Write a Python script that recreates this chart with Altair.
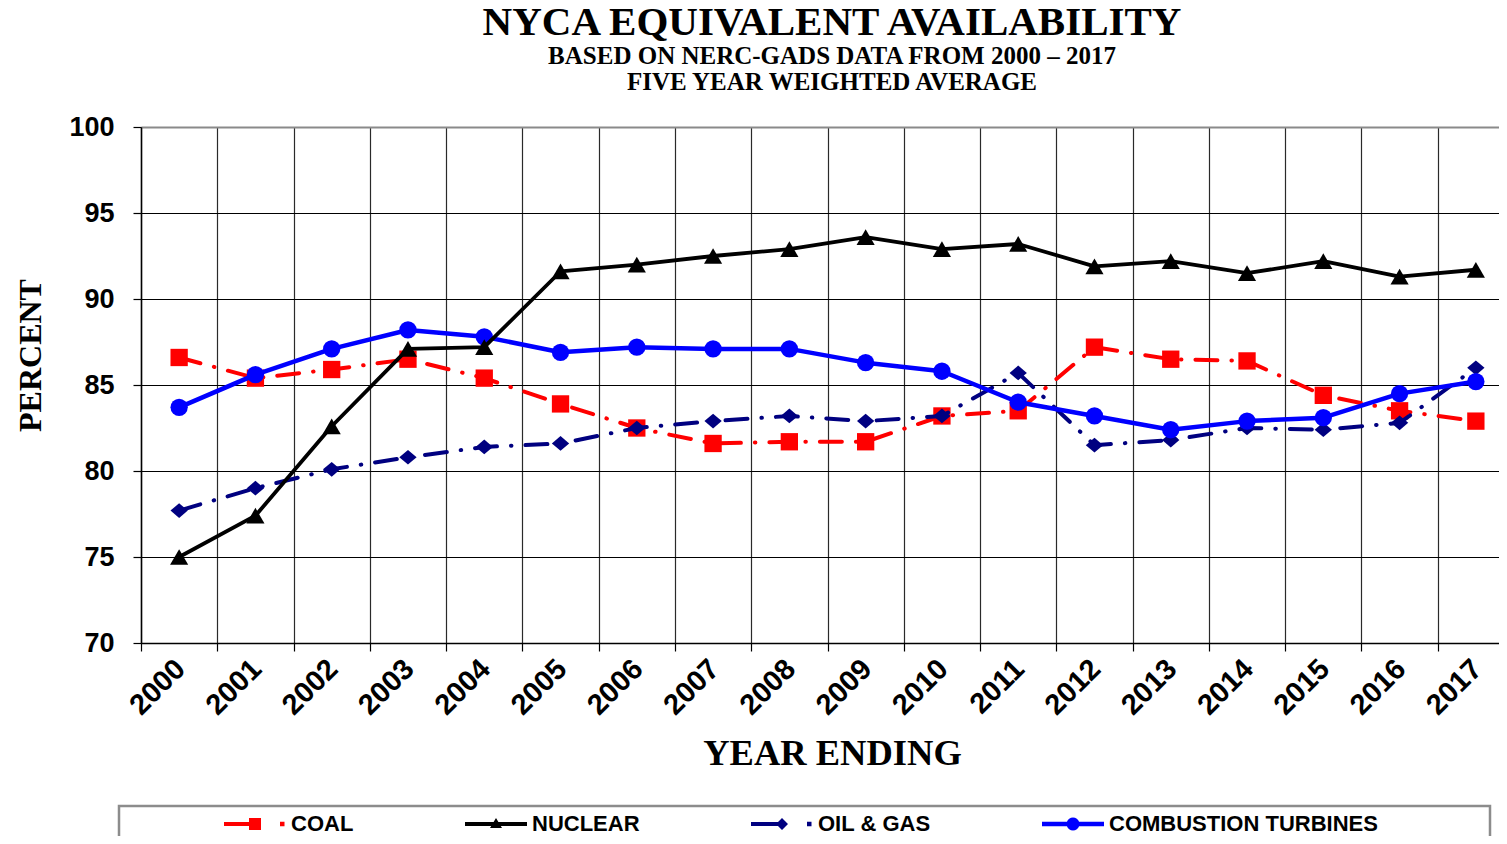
import math
import altair as alt
import pandas as pd

# ---------------- data ----------------
years = [str(y) for y in range(2000, 2018)]
coal = [86.6, 85.4, 85.9, 86.5, 85.4, 83.9, 82.5, 81.6, 81.7, 81.7, 83.2, 83.5, 87.2, 86.5, 86.4, 84.4, 83.5, 82.9]
nuclear = [75.0, 77.4, 82.6, 87.1, 87.2, 91.6, 92.0, 92.5, 92.9, 93.6, 92.9, 93.2, 91.9, 92.2, 91.5, 92.2, 91.3, 91.7]
oil_gas = [77.7, 79.0, 80.1, 80.8, 81.4, 81.6, 82.5, 82.9, 83.2, 82.9, 83.2, 85.7, 81.5, 81.8, 82.5, 82.4, 82.8, 86.0]
combustion = [83.7, 85.6, 87.1, 88.2, 87.8, 86.9, 87.2, 87.1, 87.1, 86.3, 85.8, 84.0, 83.2, 82.4, 82.9, 83.1, 84.5, 85.2]

series_names = ["COAL", "NUCLEAR", "OIL & GAS", "COMBUSTION TURBINES"]
series_values = [coal, nuclear, oil_gas, combustion]
series_colors = ["#FF0000", "#000000", "#000080", "#0000FF"]
y_ticks = [70, 75, 80, 85, 90, 95, 100]

title_text = "NYCA EQUIVALENT AVAILABILITY"
subtitle_text = ["BASED ON NERC-GADS DATA FROM 2000 \u2013 2017", "FIVE YEAR WEIGHTED AVERAGE"]

# ---------------- layout ----------------
PLOT_W = 1358          # visible view width
RANGE_W = 1373         # 18 bands of ~76.3px (last band runs off the page)
PLOT_H = 516

rows = []
for name, vals in zip(series_names, series_values):
    for yr, v in zip(years, vals):
        rows.append({"year": yr, "value": v, "series": name})
df = pd.DataFrame(rows)

X = alt.X(
    "year:O",
    bandPosition=0.5,
    scale=alt.Scale(type="band", domain=years, paddingInner=0, paddingOuter=0, range=[0, RANGE_W]),
    axis=alt.Axis(
        tickBand="extent", grid=True, gridColor="#2a2a2a", gridWidth=1.2,
        domainColor="black", domainWidth=1.5, tickColor="black", tickSize=8, tickWidth=1.2,
        labelAngle=315, labelAlign="right", labelBaseline="top", labelPadding=3, labelOffset=-9,
        labelFont="Liberation Sans", labelFontSize=29, labelFontWeight="bold", labelColor="black",
        titleFont="Liberation Serif", titleFontSize=36.5, titleFontWeight="bold", titleColor="black",
        titleX=691, titleY=121, titleBaseline="alphabetic", titleAlign="center",
    ),
    title="YEAR ENDING",
)
Y = alt.Y(
    "value:Q",
    scale=alt.Scale(domain=[70, 100], nice=False, zero=False),
    axis=alt.Axis(
        values=y_ticks, grid=True,
        gridColor={"condition": {"test": "datum.value === 100", "value": "#8a8a8a"}, "value": "black"},
        gridWidth={"condition": {"test": "datum.value === 100", "value": 2.2}, "value": 1.1},
        domainColor="black", domainWidth=1.5, tickColor="black", tickSize=8, tickWidth=1.2,
        labelPadding=19, labelFont="Liberation Sans", labelFontSize=27, labelFontWeight="bold", labelColor="black",
        titleFont="Liberation Serif", titleFontSize=32, titleFontWeight="bold", titleColor="black",
        titleAngle=270, titleX=-101, titleY=228, titleBaseline="alphabetic", titleAlign="center",
    ),
    title="PERCENT",
)

# ---------------- legend symbols (line + marker glyphs) ----------------
U = 10.0      # px per path unit (symbolSize 400 -> 20px box)
SHIFT = 21.0  # draw the 62px glyph starting at the symbol box's left edge


def rect(x0, x1, y0, y1):
    a, b = (x0 + SHIFT) / U, (x1 + SHIFT) / U
    return f"M{a:.4f},{y0/U:.4f}H{b:.4f}V{y1/U:.4f}H{a:.4f}Z"


def poly(pts):
    return "M" + "L".join(f"{(x + SHIFT)/U:.4f},{y/U:.4f}" for x, y in pts) + "Z"


circle_pts = [(6.5 * math.cos(2 * math.pi * k / 20), 6.5 * math.sin(2 * math.pi * k / 20)) for k in range(20)]
legend_paths = [
    rect(-31, 0, -2, 2) + rect(-6, 6, -6, 6) + rect(25, 29.5, -2.2, 2.2),
    rect(-31, 31, -2, 2) + poly([(-6, 4), (0, -6), (6, 4)]),
    rect(-31, 0, -2, 2) + poly([(-6, 0), (0, -6), (6, 0), (0, 6)]) + rect(25, 29.5, -2.2, 2.2),
    rect(-31, 31, -2.2, 2.2) + poly(circle_pts),
]

diamond_path = "M-1,0L0,-0.85L1,0L0,0.85Z"
styles = {
    "COAL": dict(width=4, dash=[22, 14, 0.5, 14], shape="square", size=300),
    "NUCLEAR": dict(width=3.8, dash=None, shape="triangle-up", size=330),
    "OIL & GAS": dict(width=4, dash=[22, 14, 0.5, 14], shape=diamond_path, size=300),
    "COMBUSTION TURBINES": dict(width=4.5, dash=None, shape="circle", size=300),
}

# legend frame
box = alt.Chart(pd.DataFrame({"k": [0]})).mark_rect(
    filled=False, stroke="#8c8c8c", strokeWidth=2.5
).encode(x=alt.value(-22), x2=alt.value(1349), y=alt.value(679), y2=alt.value(760))

layers = [box]
draw_order = ["COAL", "OIL & GAS", "COMBUSTION TURBINES", "NUCLEAR"]
for name in draw_order:
    i = series_names.index(name)
    st = styles[name]
    sdf = pd.DataFrame({"year": years, "value": series_values[i]})
    line_kw = dict(color=series_colors[i], strokeWidth=st["width"], strokeCap="round", strokeJoin="round")
    if st["dash"]:
        line_kw["strokeDash"] = st["dash"]
    layers.append(alt.Chart(sdf).mark_line(**line_kw).encode(x=X, y=Y))
    layers.append(
        alt.Chart(sdf).mark_point(
            filled=True, opacity=1, color=series_colors[i], shape=st["shape"], size=st["size"], strokeWidth=0
        ).encode(x=X, y=Y)
    )

LEG = alt.Legend(
    title=None, orient="none", legendX=82, legendY=686, direction="horizontal", columns=4,
    gridAlign="none", columnPadding=110, symbolSize=400, symbolStrokeWidth=0, symbolOpacity=1,
    labelFont="Liberation Sans", labelFontSize=22, labelFontWeight="bold", labelColor="black",
    labelOffset=46, labelLimit=500, padding=0,
)
legend_layer = alt.Chart(df).mark_point(filled=True, opacity=0, size=400).encode(
    x=X, y=Y,
    color=alt.Color("series:N", scale=alt.Scale(domain=series_names, range=series_colors), legend=LEG),
    shape=alt.Shape("series:N", scale=alt.Scale(domain=series_names, range=legend_paths), legend=LEG),
)
layers.append(legend_layer)

chart = alt.layer(*layers).properties(
    width=PLOT_W,
    height=PLOT_H,
    padding={"left": 133, "top": 119, "right": 0, "bottom": 193},
    autosize=alt.AutoSizeParams(type="none"),
    background="white",
    title=alt.Title(
        title_text, subtitle=subtitle_text,
        font="Liberation Serif", fontSize=41, fontWeight="bold", color="black",
        subtitleFont="Liberation Serif", subtitleFontSize=25, subtitleFontWeight="bold", subtitleColor="black",
        subtitleLineHeight=26, subtitlePadding=0, anchor="middle", frame="group", offset=17, dx=12,
    ),
).configure_view(stroke=None)

chart.save("out.html", embed_options={"renderer": "svg", "actions": False})
